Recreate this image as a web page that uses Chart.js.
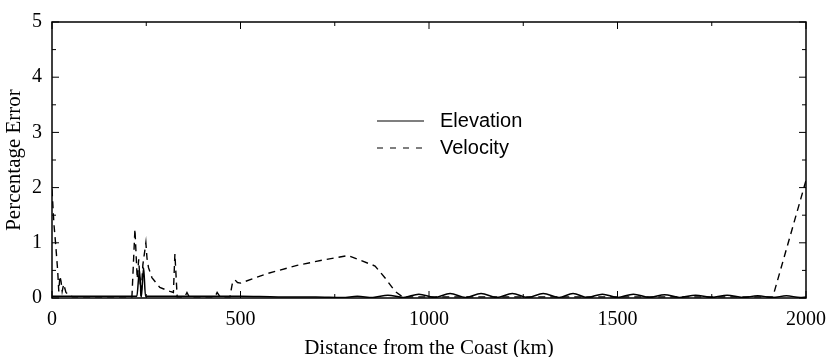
<!DOCTYPE html>
<html>
<head>
<meta charset="utf-8">
<script src="https://cdn.jsdelivr.net/npm/chart.js@4/dist/chart.umd.min.js"></script>
<style>
  html, body { margin: 0; padding: 0; background: #fff; }
  #errChart { display: block; }
</style>
</head>
<body>
<canvas id="errChart" width="832" height="357"></canvas>
<script>
// values (distance in km, error in %)
const elevationKm = [0, 50, 100, 150, 200, 225, 232, 237, 243, 248, 300, 400, 500, 600, 700,
  770, 810, 851, 891, 932, 973, 1015, 1056, 1097, 1138, 1180, 1221, 1262, 1303, 1345, 1382,
  1420, 1460, 1500, 1542, 1585, 1625, 1665, 1707, 1750, 1791, 1832, 1872, 1912, 1948, 1985, 2000];
const elevationPct = [0.03, 0.03, 0.03, 0.03, 0.03, 0.03, 0.5, 0.02, 0.55, 0.03, 0.03, 0.03, 0.03, 0.02, 0.02,
  0.01, 0.03, 0.01, 0.05, 0.01, 0.07, 0.01, 0.08, 0.01, 0.08, 0.01, 0.08, 0.01, 0.08, 0.01, 0.08,
  0.01, 0.07, 0.01, 0.07, 0.01, 0.06, 0.01, 0.05, 0.01, 0.05, 0.01, 0.04, 0.01, 0.04, 0.01, 0.02];

const velocityKm = [0, 5, 10, 15, 18, 21, 24, 27, 31, 37, 45, 55, 150, 212, 220, 226, 230, 236,
  241, 246, 249, 252, 256, 265, 286, 313, 322, 326, 332, 352, 358, 364, 432, 438, 446, 472,
  478, 485, 492, 500, 570, 650, 720, 785, 857, 885, 910, 930, 1200, 1600, 1912, 2000];
const velocityPct = [1.97, 1.35, 0.95, 0.5, 0.12, 0.4, 0.3, 0.12, 0.25, 0.1, 0.05, 0.02, 0.02, 0.02, 1.25, 0.35, 0.7, 0.02,
  0.6, 0.85, 1.0, 0.72, 0.55, 0.37, 0.19, 0.12, 0.1, 0.8, 0.02, 0.02, 0.1, 0.02, 0.02, 0.1, 0.02, 0.02,
  0.25, 0.33, 0.28, 0.27, 0.44, 0.59, 0.69, 0.77, 0.58, 0.35, 0.12, 0.02, 0.02, 0.02, 0.02, 2.13];

const xTicks = [0, 500, 1000, 1500, 2000];
const yTicks = [0, 1, 2, 3, 4, 5];
const xMinorStep = 250;
const yMinorStep = 0.5;

const toPoints = (xs, ys) => xs.map((x, i) => ({ x: x, y: ys[i] }));

// frame with inward ticks on all four sides, like the original plot
const frameTicks = {
  id: 'frameTicks',
  afterDraw(chart) {
    const { ctx, chartArea: a, scales: { x, y } } = chart;
    ctx.save();
    ctx.strokeStyle = '#000';
    ctx.lineWidth = 1.5;
    ctx.strokeRect(a.left, a.top, a.right - a.left, a.bottom - a.top);
    ctx.lineWidth = 1;
    ctx.beginPath();
    for (let v = x.min; v <= x.max + 1e-9; v += xMinorStep) {
      const px = x.getPixelForValue(v);
      const len = xTicks.includes(v) ? 7 : 4;
      ctx.moveTo(px, a.bottom); ctx.lineTo(px, a.bottom - len);
      ctx.moveTo(px, a.top); ctx.lineTo(px, a.top + len);
    }
    for (let v = y.min; v <= y.max + 1e-9; v += yMinorStep) {
      const py = y.getPixelForValue(v);
      const len = Number.isInteger(v) ? 7 : 4;
      ctx.moveTo(a.left, py); ctx.lineTo(a.left + len, py);
      ctx.moveTo(a.right, py); ctx.lineTo(a.right - len, py);
    }
    ctx.stroke();
    ctx.restore();
  }
};

// legend sits inside the plot, as in the figure
const innerLegend = {
  id: 'innerLegend',
  afterDraw(chart) {
    const ctx = chart.ctx;
    const rows = [
      { label: chart.data.datasets[0].label, dash: [], y: 121 },
      { label: chart.data.datasets[1].label, dash: [6, 7], y: 148 }
    ];
    ctx.save();
    ctx.strokeStyle = '#000';
    ctx.fillStyle = '#000';
    ctx.lineWidth = 1.2;
    ctx.font = '20px "Liberation Sans", Arial, sans-serif';
    ctx.textBaseline = 'middle';
    rows.forEach(r => {
      ctx.setLineDash(r.dash);
      ctx.beginPath();
      ctx.moveTo(377, r.y); ctx.lineTo(424, r.y);
      ctx.stroke();
      ctx.fillText(r.label, 440, r.y);
    });
    ctx.restore();
  }
};

const serif = '"Liberation Serif", "Times New Roman", serif';

new Chart(document.getElementById('errChart'), {
  type: 'line',
  data: {
    datasets: [{
      label: 'Elevation',
      data: toPoints(elevationKm, elevationPct),
      borderColor: '#000',
      borderWidth: 1.5,
      pointRadius: 0,
      cubicInterpolationMode: 'monotone',
      fill: false
    }, {
      label: 'Velocity',
      data: toPoints(velocityKm, velocityPct),
      borderColor: '#000',
      borderWidth: 1.4,
      borderDash: [7, 5],
      pointRadius: 0,
      tension: 0,
      fill: false
    }]
  },
  options: {
    responsive: false,
    animation: false,
    layout: { padding: { top: 14, right: 26, left: 0, bottom: 0 } },
    plugins: {
      legend: { display: false },
      tooltip: { enabled: false }
    },
    scales: {
      x: {
        type: 'linear',
        min: 0,
        max: 2000,
        grid: { display: false, drawTicks: false },
        border: { display: false },
        afterBuildTicks: s => { s.ticks = xTicks.map(v => ({ value: v })); },
        afterFit: s => { s.height = 59; s.paddingLeft = 0; s.paddingRight = 0; },
        ticks: {
          color: '#000',
          padding: 10,
          maxRotation: 0,
          callback: v => String(v),
          font: { family: serif, size: 20 }
        },
        title: {
          display: true,
          text: 'Distance from the Coast (km)',
          color: '#000',
          padding: { top: 0, bottom: -2 },
          font: { family: serif, size: 21, lineHeight: 1 }
        }
      },
      y: {
        min: 0,
        max: 5,
        grid: { display: false, drawTicks: false },
        border: { display: false },
        afterBuildTicks: s => { s.ticks = yTicks.map(v => ({ value: v })); },
        afterFit: s => { s.width = 52; },
        ticks: { color: '#000', padding: 10, font: { family: serif, size: 20 } },
        title: {
          display: true,
          text: 'Percentage Error',
          color: '#000',
          padding: { top: 4, bottom: 0 },
          font: { family: serif, size: 21, lineHeight: 1 }
        }
      }
    }
  },
  plugins: [frameTicks, innerLegend]
});
</script>
</body>
</html>
